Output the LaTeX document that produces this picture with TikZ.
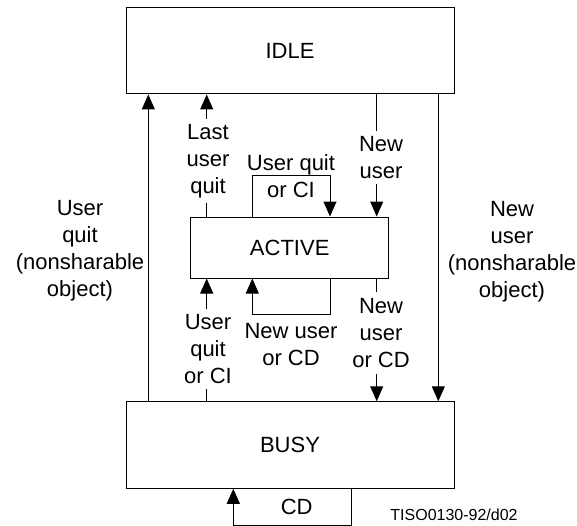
\documentclass[tikz,border=0pt]{standalone}
\usepackage{fontspec}
\setmainfont{Liberation Sans}
\usetikzlibrary{arrows.meta, positioning}

\begin{document}
\begin{tikzpicture}[x=1pt, y=-1pt, line width=1pt,
    state/.style={draw, minimum width=328pt, minimum height=86.5pt,
                  font=\fontsize{22}{27}\selectfont},
    lbl/.style={align=center, inner sep=5pt, font=\fontsize{22}{27}\selectfont},
    tip/.style={-{Triangle[length=15pt, width=13pt]}}]
    \useasboundingbox (0,0) rectangle (577,525);
    % states
    \node[state] (idle) at (290,50.7) {IDLE};
    \node[state, minimum width=198pt, minimum height=61pt] (active) at (289.7,247.5) {ACTIVE};
    \node[state] (busy) at (290,445) {BUSY};
    % columns of the connectors
    \coordinate (xa) at (148.3,0);
    \coordinate (xb) at (206.7,0);
    \coordinate (xc) at (252.3,0);
    \coordinate (xd) at (330,0);
    \coordinate (xe) at (376.7,0);
    \coordinate (xf) at (438.3,0);
    \coordinate (xg) at (233.3,0);
    \coordinate (xh) at (351.7,0);
    % labels
    \node[lbl] (uqns) at (80,251) {User\\quit\\(nonsharable\\object)};
    \node[lbl] (nuns) at (512,252) {New\\user\\(nonsharable\\object)};
    \node[lbl] (lastq) at (208,161) {Last\\user\\quit};
    \node[lbl] (uqtop) at (291,176.5) {User quit\\or CI};
    \node[lbl] (newu) at (381,157.5) {New\\user};
    \node[lbl] (uqci) at (208,349) {User\\quit\\or CI};
    \node[lbl] (nucin) at (291,345) {New user\\or CD};
    \node[lbl, inner sep=6pt] (nucd) at (381,333) {New\\user\\or CD};
    \node[lbl] (cd) at (296.7,506.7) {CD};
    \node[font=\fontsize{16}{19}\selectfont] (ref) at (454,515) {TISO0130-92/d02};
    % transitions
    \draw[tip] (busy.north -| xa) -- (idle.south -| xa);
    \draw (active.north -| xb) -- (lastq.south -| xb);
    \draw[tip] (lastq.north -| xb) -- (idle.south -| xb);
    \draw[tip] (active.north -| xc) -- ++(0,-41.3) -| (active.north -| xd);
    \draw (idle.south -| xe) -- (newu.north -| xe);
    \draw[tip] (newu.south -| xe) -- (active.north -| xe);
    \draw[tip] (idle.south -| xf) -- (busy.north -| xf);
    \draw (busy.north -| xb) -- (uqci.south -| xb);
    \draw[tip] (uqci.north -| xb) -- (active.south -| xb);
    \draw[tip] (active.south -| xd) -- ++(0,36) -| (active.south -| xc);
    \draw (active.south -| xe) -- (nucd.north -| xe);
    \draw[tip] (nucd.south -| xe) -- (busy.north -| xe);
    \draw[tip] (busy.south -| xh) -- ++(0,36.3) -| (busy.south -| xg);
\end{tikzpicture}
\end{document}
